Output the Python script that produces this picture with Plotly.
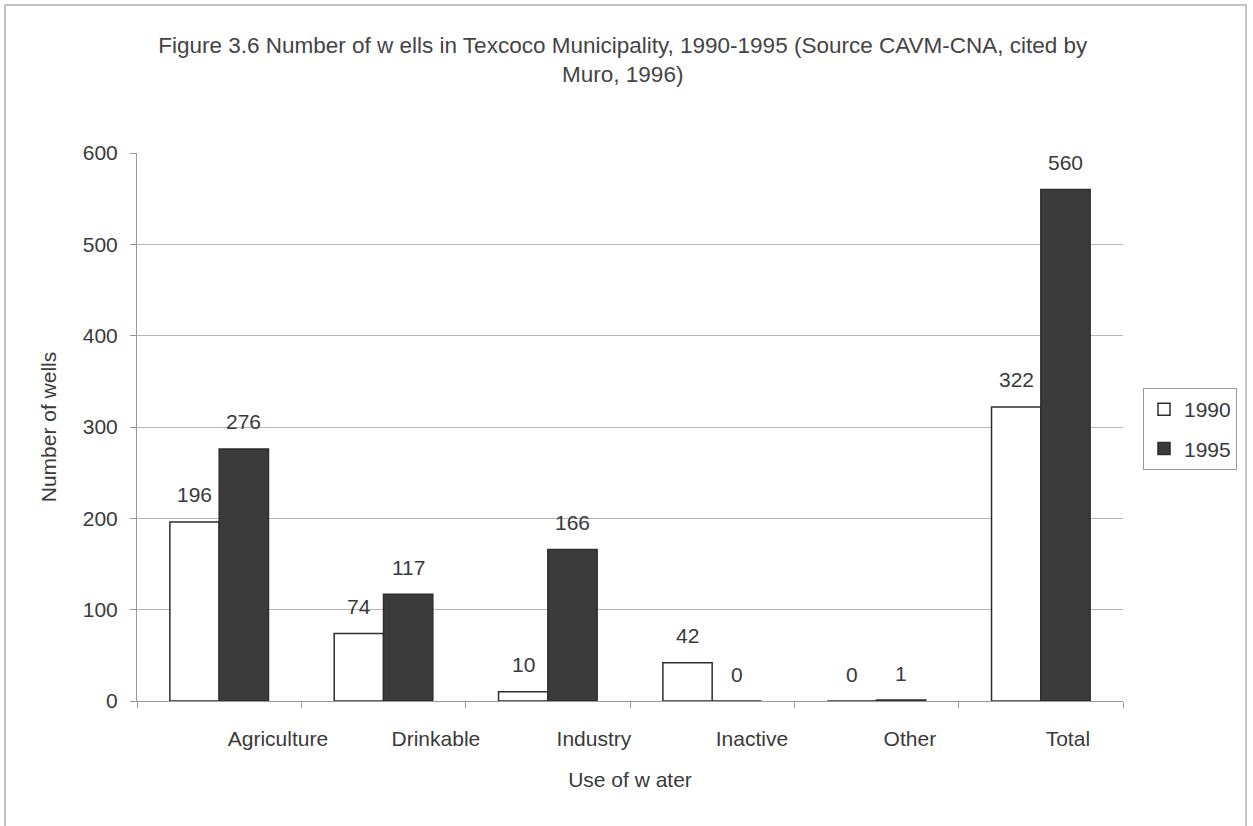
import plotly.graph_objects as go

categories = ["Agriculture", "Drinkable", "Industry", "Inactive", "Other", "Total"]
wells_1990 = [196, 74, 10, 42, 0, 322]
wells_1995 = [276, 117, 166, 0, 1, 560]
y_ticks = [0, 100, 200, 300, 400, 500, 600]

W, H = 1253, 826
ML, MR, MT, MB = 137, 130, 153, 125
plot_w = W - ML - MR
plot_h = H - MT - MB
bargap = 0.40
cat_px = plot_w / len(categories)
bar_px = cat_px * (1 - bargap) / 2

FONT = "Liberation Sans, Arial, sans-serif"
TXT = "#3a3a3a"
FS = 21

fig = go.Figure()
fig.add_trace(go.Bar(
    name="1990", x=categories, y=wells_1990,
    marker=dict(color="white", line=dict(color="#2e2e2e", width=1.5)),
    legendgroup="a",
))
fig.add_trace(go.Bar(
    name="1995", x=categories, y=wells_1995,
    marker=dict(color="#3b3b3b", line=dict(color="#2e2e2e", width=1.5)),
    legendgroup="b",
))
# helper trace carrying the shifted category labels (as in the scanned original)
fig.add_trace(go.Scatter(
    x=categories, y=wells_1990, xaxis="x2", yaxis="y",
    mode="markers", marker=dict(opacity=0), showlegend=False, hoverinfo="skip",
))

annotations = []
for series, sign in ((wells_1990, -1), (wells_1995, 1)):
    for c, v in zip(categories, series):
        annotations.append(dict(
            x=c, y=v, xref="x", yref="y", text=str(v), showarrow=False,
            xshift=sign * bar_px / 2, yshift=27, yanchor="middle",
            font=dict(family=FONT, size=FS, color=TXT),
        ))

fig.update_layout(
    width=W, height=H,
    margin=dict(l=ML, r=MR, t=MT, b=MB, autoexpand=False),
    paper_bgcolor="white", plot_bgcolor="white",
    font=dict(family=FONT, size=FS, color=TXT),
    barmode="group", bargap=bargap, bargroupgap=0,
    title=dict(
        text="Figure 3.6 Number of w ells in Texcoco Municipality, 1990-1995 (Source CAVM-CNA, cited by<br>Muro, 1996)",
        x=0.497, xref="container", xanchor="center",
        y=1 - 53 / H, yref="container", yanchor="top",
        font=dict(family=FONT, size=22.5, color="#444"),
    ),
    xaxis=dict(
        type="category", categoryorder="array", categoryarray=categories,
        tickson="boundaries", ticks="outside", ticklen=6, tickcolor="#999",
        showticklabels=False, showline=True, linecolor="#999", linewidth=1,
        showgrid=False, zeroline=False,
        title=dict(text="Use of w ater", standoff=71, font=dict(size=FS, color=TXT)),
    ),
    xaxis2=dict(
        type="category", categoryorder="array", categoryarray=categories,
        overlaying="x", anchor="y", side="bottom",
        range=[-0.892, 5.349],
        showline=False, ticks="", showgrid=False, zeroline=False,
        ticklabelstandoff=23, tickfont=dict(size=FS, color=TXT),
    ),
    yaxis=dict(
        range=[0, 600], tickvals=y_ticks, ticks="outside", ticklen=6, tickcolor="#999",
        showline=True, linecolor="#999", linewidth=1,
        showgrid=True, gridcolor="#b5b5b5", gridwidth=1, zeroline=False,
        ticklabelstandoff=8, tickfont=dict(size=FS, color=TXT),
        title=dict(text="Number of wells", standoff=20, font=dict(size=FS, color=TXT)),
    ),
    legend=dict(
        x=(1143 - ML) / plot_w, xanchor="left",
        y=(701 - 388) / plot_h, yanchor="top",
        bordercolor="#999", borderwidth=1, bgcolor="white",
        font=dict(size=FS, color=TXT), traceorder="grouped", tracegroupgap=9,
        itemwidth=30,
    ),
    annotations=annotations,
    shapes=[dict(
        type="rect", xref="paper", yref="paper",
        x0=(5 - ML) / plot_w, x1=(1246 - ML) / plot_w,
        y0=(701 - 840) / plot_h, y1=(701 - 5) / plot_h,
        line=dict(color="#c4c4c4", width=2), fillcolor="rgba(0,0,0,0)", layer="below",
    )],
)

fig.write_html("out.html")
